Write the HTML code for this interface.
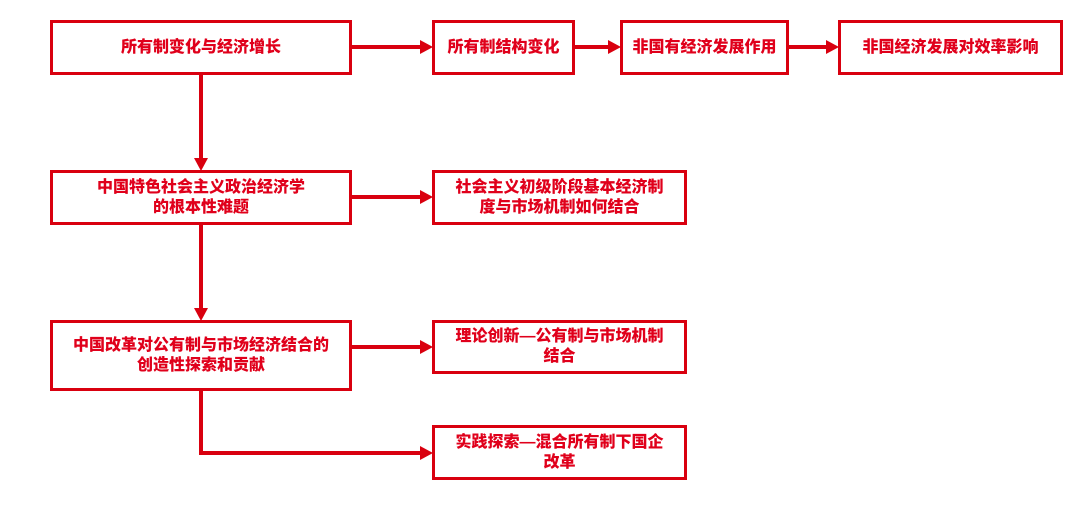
<!DOCTYPE html>
<html><head><meta charset="utf-8"><style>
body{margin:0;background:#fff;width:1080px;height:518px;position:relative;overflow:hidden;font-family:"Liberation Sans","Noto Sans CJK SC",sans-serif}
.b{position:absolute;box-sizing:border-box;border:3.5px solid #d9000f;display:flex;align-items:center;justify-content:center;text-align:center;color:#e0001b;font-weight:900;font-size:16px;line-height:20px;background:#fff}
svg{position:absolute;left:0;top:0}
</style></head><body>
<svg width="1080" height="518">
<g stroke="#d9000f" stroke-width="4" fill="none">
<line x1="351" y1="47" x2="422" y2="47"/>
<line x1="574" y1="47" x2="610" y2="47"/>
<line x1="788" y1="47" x2="828" y2="47"/>
<line x1="201" y1="74" x2="201" y2="160"/>
<line x1="351" y1="197" x2="422" y2="197"/>
<line x1="201" y1="224" x2="201" y2="310"/>
<line x1="351" y1="347" x2="422" y2="347"/>
<polyline points="201,390 201,453 422,453"/>
</g>
<g fill="#d9000f">
<polygon points="433,47 420,40 420,54"/>
<polygon points="621,47 608,40 608,54"/>
<polygon points="839,47 826,40 826,54"/>
<polygon points="201,171 194,158 208,158"/>
<polygon points="433,197 420,190 420,204"/>
<polygon points="201,321 194,308 208,308"/>
<polygon points="433,347 420,340 420,354"/>
<polygon points="433,453 420,446 420,460"/>
</g>
</svg>
<div class="b" style="left:50px;top:20px;width:302px;height:55px">所有制变化与经济增长</div>
<div class="b" style="left:432px;top:20px;width:143px;height:55px">所有制结构变化</div>
<div class="b" style="left:620px;top:20px;width:169px;height:55px">非国有经济发展作用</div>
<div class="b" style="left:838px;top:20px;width:225px;height:55px">非国经济发展对效率影响</div>
<div class="b" style="left:50px;top:170px;width:302px;height:55px">中国特色社会主义政治经济学<br>的根本性难题</div>
<div class="b" style="left:432px;top:170px;width:255px;height:55px">社会主义初级阶段基本经济制<br>度与市场机制如何结合</div>
<div class="b" style="left:50px;top:320px;width:302px;height:71px">中国改革对公有制与市场经济结合的<br>创造性探索和贡献</div>
<div class="b" style="left:432px;top:320px;width:255px;height:54px">理论创新—公有制与市场机制<br>结合</div>
<div class="b" style="left:432px;top:425px;width:255px;height:55px">实践探索—混合所有制下国企<br>改革</div>
</body></html>
